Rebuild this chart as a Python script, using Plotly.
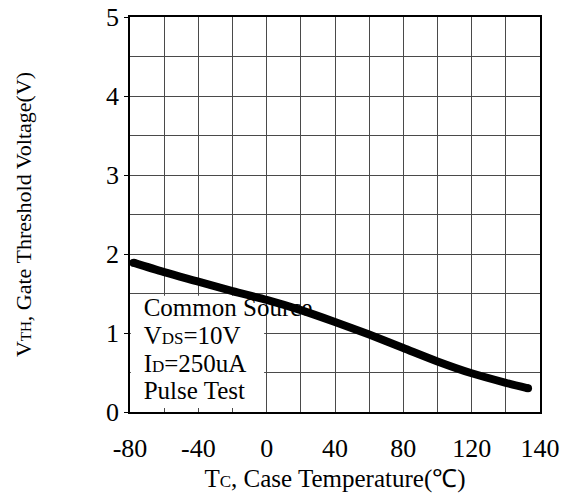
import plotly.graph_objects as go

# Data (x in linear plot units; the datasheet labels the last gridline "140")
temp = [-78, -60, -40, -20, 0, 20, 40, 60, 80, 100, 120, 140, 153]
vth = [1.89, 1.77, 1.65, 1.53, 1.42, 1.29, 1.14, 0.98, 0.81, 0.64, 0.49, 0.37, 0.30]

x_tickvals = [-80, -40, 0, 40, 80, 120, 160]
x_ticktext = ["-80", "-40", "0", "40", "80", "120", "140"]
y_tickvals = [0, 1, 2, 3, 4, 5]

SUB = '<span style="font-size:17px">%s</span>'
note_lines = ["Common Source", "V" + SUB % "DS" + "=10V", "I" + SUB % "D" + "=250uA", "Pulse Test"]
note_y = [1.30, 0.94, 0.59, 0.25]

FONT = "Liberation Serif, Times New Roman, serif"
GRID = "#4a4a4a"

fig = go.Figure()

fig.add_trace(go.Scatter(
    x=[-72] * len(note_lines), y=note_y, text=note_lines, mode="text",
    textposition="middle right", textfont=dict(family=FONT, size=25, color="black"),
    showlegend=False, hoverinfo="skip"))

fig.add_trace(go.Scatter(
    x=temp, y=vth, mode="lines", line=dict(color="black", width=8, shape="spline", smoothing=0.8),
    showlegend=False))
fig.add_trace(go.Scatter(
    x=[temp[0], temp[-1]], y=[vth[0], vth[-1]], mode="markers",
    marker=dict(color="black", size=8), showlegend=False, hoverinfo="skip"))

fig.add_shape(type="rect", xref="x", yref="y", x0=-79.5, x1=-1.5, y0=0.05, y1=1.47,
              fillcolor="white", line=dict(width=0), layer="between")

fig.update_xaxes(
    range=[-80, 160], tickvals=x_tickvals, ticktext=x_ticktext,
    showgrid=True, gridcolor=GRID, gridwidth=1,
    minor=dict(showgrid=True, gridcolor=GRID, gridwidth=1, tickvals=list(range(-80, 161, 20))),
    showline=True, linecolor="black", linewidth=1.5, mirror=True,
    ticks="", ticklabelstandoff=12, zeroline=False, automargin=False,
    tickfont=dict(family=FONT, size=26, color="black"),
    title=dict(text="T" + SUB % "C" + ", Case Temperature(℃)",
               font=dict(family=FONT, size=25, color="black"), standoff=8))

fig.update_yaxes(
    range=[0, 5], tickvals=y_tickvals,
    showgrid=True, gridcolor=GRID, gridwidth=1,
    minor=dict(showgrid=True, gridcolor=GRID, gridwidth=1, tickvals=[0.5, 1.5, 2.5, 3.5, 4.5]),
    showline=True, linecolor="black", linewidth=1.5, mirror=True,
    ticks="outside", ticklen=4, tickcolor="black", zeroline=False, automargin=False,
    tickfont=dict(family=FONT, size=26, color="black"),
    title=dict(text="V" + '<span style="font-size:15px">TH</span>' + ", Gate Threshold Voltage(V)",
               font=dict(family=FONT, size=22, color="black"), standoff=68))

fig.update_layout(
    width=579, height=495, margin=dict(l=130, r=39, t=17, b=83),
    plot_bgcolor="white", paper_bgcolor="white", showlegend=False)

fig.write_html("out.html")
